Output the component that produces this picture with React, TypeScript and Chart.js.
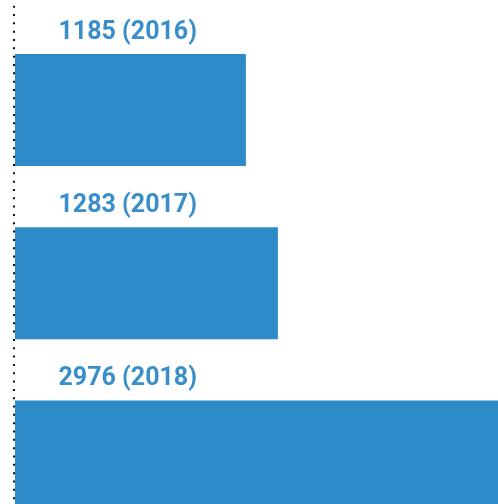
import React, { useEffect, useRef } from "react";
import { Chart, registerables } from "chart.js";

Chart.register(...registerables);

const years = ["2016", "2017", "2018"];
const values = [1185, 1283, 2976];

const BAR_COLOR = "#2e8bc9";
const TEXT_COLOR = "#3a8fcb";

const labelPlugin = {
  id: "barLabels",
  afterDatasetsDraw(chart: any) {
    const ctx = chart.ctx;
    const area = chart.chartArea;
    // dotted vertical line
    ctx.save();
    ctx.strokeStyle = "#111";
    ctx.lineWidth = 2;
    ctx.setLineDash([2, 6.33]);
    ctx.lineDashOffset = -5.7;
    ctx.beginPath();
    ctx.moveTo(area.left - 1, 0);
    ctx.lineTo(area.left - 1, chart.height);
    ctx.stroke();
    ctx.restore();

    const meta = chart.getDatasetMeta(0);
    ctx.save();
    ctx.font = "bold 25px Roboto";
    ctx.fillStyle = TEXT_COLOR;
    ctx.textAlign = "left";
    ctx.textBaseline = "alphabetic";
    meta.data.forEach((bar: any, i: number) => {
      const props = bar.getProps(["y", "height"], true);
      const top = props.y - props.height / 2;
      ctx.fillText(`${values[i]} (${years[i]})`, area.left + 43.5, top - 15.5);
    });
    ctx.restore();
  },
};

export default function App() {
  const ref = useRef<HTMLCanvasElement>(null);
  useEffect(() => {
    if (!ref.current) return;
    const chart = new Chart(ref.current, {
      type: "bar",
      data: {
        labels: years,
        datasets: [
          {
            data: values,
            backgroundColor: BAR_COLOR,
            borderWidth: 0,
            categoryPercentage: 1,
            barPercentage: 0.646,
          },
        ],
      },
      options: {
        indexAxis: "y",
        animation: false,
        responsive: false,
        maintainAspectRatio: false,
        layout: { padding: { top: 23.4, left: 15, right: 0, bottom: 0 } },
        plugins: { legend: { display: false }, tooltip: { enabled: false } },
        scales: {
          x: { display: false, min: 478, max: 1957 },
          y: { display: false },
        },
      },
      plugins: [labelPlugin],
    });
    return () => chart.destroy();
  }, []);
  return (
    <div style={{ position: "fixed", left: 0, top: 0, width: 498, height: 543, background: "#fff" }}>
      <canvas ref={ref} width={498} height={543} style={{ display: "block" }} />
    </div>
  );
}
